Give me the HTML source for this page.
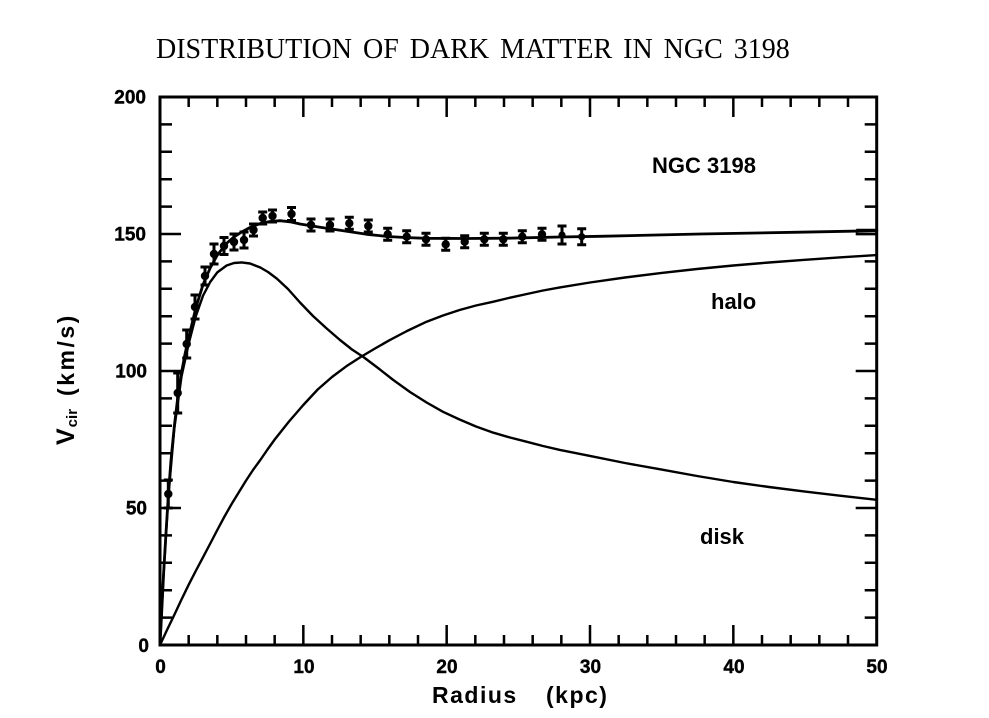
<!DOCTYPE html>
<html>
<head>
<meta charset="utf-8">
<style>
  html,body{margin:0;padding:0;background:#fff;}
  body{width:989px;height:718px;overflow:hidden;}
  svg{display:block;}
  .b{font-family:"Liberation Sans",Arial,sans-serif;font-weight:bold;fill:#000;}
  .t{font-family:"Liberation Serif","Times New Roman",serif;fill:#000;}
</style>
</head>
<body>
<svg width="989" height="718" viewBox="0 0 989 718" xmlns="http://www.w3.org/2000/svg">
  <rect x="0" y="0" width="989" height="718" fill="#fff"/>

  <!-- Title -->
  <text class="t" x="156" y="58" font-size="28" word-spacing="4">DISTRIBUTION OF DARK MATTER IN NGC 3198</text>

  <!-- Frame -->
  <rect x="160" y="97" width="716.7" height="548" fill="none" stroke="#000" stroke-width="3"/>

  <!-- Ticks -->
  <path fill="none" stroke="#000" stroke-width="2.5" d="
    M188.67 645V635 M217.33 645V635 M246 645V635 M274.67 645V635 M303.33 645V625
    M332 645V635 M360.67 645V635 M389.33 645V635 M418 645V635 M446.67 645V625
    M475.33 645V635 M504 645V635 M532.67 645V635 M561.33 645V635 M590 645V625
    M618.67 645V635 M647.33 645V635 M676 645V635 M704.67 645V635 M733.33 645V625
    M762 645V635 M790.67 645V635 M819.33 645V635 M848 645V635
    M188.67 97V107 M217.33 97V107 M246 97V107 M274.67 97V107 M303.33 97V117
    M332 97V107 M360.67 97V107 M389.33 97V107 M418 97V107 M446.67 97V117
    M475.33 97V107 M504 97V107 M532.67 97V107 M561.33 97V107 M590 97V117
    M618.67 97V107 M647.33 97V107 M676 97V107 M704.67 97V107 M733.33 97V117
    M762 97V107 M790.67 97V107 M819.33 97V107 M848 97V107
    M160 617.6H172 M160 590.2H172 M160 562.8H172 M160 535.4H172 M160 508H181
    M160 480.6H172 M160 453.2H172 M160 425.8H172 M160 398.4H172 M160 371H181
    M160 343.6H172 M160 316.2H172 M160 288.8H172 M160 261.4H172 M160 234H181
    M160 206.6H172 M160 179.2H172 M160 151.8H172 M160 124.4H172
    M876.7 617.6H864.7 M876.7 590.2H864.7 M876.7 562.8H864.7 M876.7 535.4H864.7 M876.7 508H855.7
    M876.7 480.6H864.7 M876.7 453.2H864.7 M876.7 425.8H864.7 M876.7 398.4H864.7 M876.7 371H855.7
    M876.7 343.6H864.7 M876.7 316.2H864.7 M876.7 288.8H864.7 M876.7 261.4H864.7 M876.7 234H855.7
    M876.7 206.6H864.7 M876.7 179.2H864.7 M876.7 151.8H864.7 M876.7 124.4H864.7
  "/>

  <!-- X tick labels -->
  <g class="b" font-size="19" text-anchor="middle" stroke="#000" stroke-width="0.4">
    <text x="160.5" y="673">0</text>
    <text x="304" y="673">10</text>
    <text x="447" y="673">20</text>
    <text x="590.5" y="673">30</text>
    <text x="734" y="673">40</text>
    <text x="877" y="673">50</text>
  </g>
  <!-- Y tick labels -->
  <g class="b" font-size="19" text-anchor="end" stroke="#000" stroke-width="0.4">
    <text x="149" y="652">0</text>
    <text x="147" y="514.5">50</text>
    <text x="147" y="377.5">100</text>
    <text x="146" y="240.5">150</text>
    <text x="146" y="103.5">200</text>
  </g>

  <!-- Axis labels -->
  <text class="b" x="432" y="703" font-size="23" letter-spacing="1.5">Radius</text>
  <text class="b" x="546" y="703" font-size="23" letter-spacing="1.5">(kpc)</text>
  <text class="b" transform="translate(74,445) rotate(-90)" font-size="23"><tspan font-size="25">V</tspan><tspan font-size="15" dy="3" dx="1">cir</tspan><tspan dy="-3" dx="13" letter-spacing="2.5">(km/s)</tspan></text>

  <!-- Annotations -->
  <text class="b" x="652" y="173" font-size="22">NGC 3198</text>
  <text class="b" x="711" y="309" font-size="22">halo</text>
  <text class="b" x="700" y="544" font-size="22">disk</text>

  <!-- Curves -->
  <g fill="none" stroke="#000" stroke-width="2.4" stroke-linejoin="round" stroke-linecap="round">
    <!-- disk -->
    <polyline points="160,645 163.6,573.8 168.3,497 174.3,428.5 181.5,376.5 188.7,343.6 195.8,316.2 203,295.7 210.2,282 217.3,272.4 226.6,265.5 234,263 241.7,262.4 250,263.5 260.3,267.5 268,272 276.7,278.5 288,289 300,302.5 313,316 326.7,328.5 340,340 352,349.5 363.4,357 378,368 393.3,380 410,392 426.6,402.5 443,411.8 459.6,419.5 476,426.5 493.4,432.7 510,437.5 526.9,441.8 543,446 559.9,449.9 590,455.9 625,463 661.7,469.6 697,476 733.3,482 769,487 805,491.6 841,495.8 876.7,499.8"/>
    <!-- halo -->
    <polyline points="160,645 167,630 174.3,614.9 181.5,599.5 188.7,584.7 196,570.5 203,557.3 210,544 217.3,530 224.5,516.5 231.7,503.9 239,492 246,480.6 253,470 260.3,460 267.5,449.5 274.7,439.5 289,421.5 303.3,405 317.7,389.5 332,377 346.3,366.3 360.7,357 375,348.5 389.3,340.3 407,331 426.6,321.7 443,315.5 459.6,310 476,305.5 493.4,301.7 510,297.7 526.9,294 543,290.5 559.9,287.4 590,282.5 625,277.5 661.7,272.9 697,269 733.3,265.5 769,262.5 805,259.8 841,257.3 876.7,255.1"/>
    <!-- total -->
    <polyline stroke-width="2.8" points="160,645 161.8,610 163.6,573.5 166,533 168.3,496 171,460 174.3,426.4 177.7,398 181.5,372.7 185,354 188.7,337.6 195.8,308 203,284.7 210.2,268 217.3,255.1 226.6,243.3 234,237 241.7,232 250,227.5 260.3,223.5 270,221.5 280,220.7 290,221.8 300,224 320,227.3 335,229.5 350,231.7 366.7,234.3 387.7,236.5 407,237.6 426.7,238.3 466.7,238.5 506.7,238.2 560,237 600,236.3 700,234 800,232.2 876.7,230.7"/>
  </g>
  <rect x="857" y="229.5" width="19" height="5" fill="none" stroke="#000" stroke-width="1.5"/>

  <!-- Data error bars -->
  <path fill="none" stroke="#000" stroke-width="3" d="
    M168.3 480V508 M163.8 480H172.8 M163.8 508H172.8
    M177.7 373V413 M173.2 373H182.2 M173.2 413H182.2
    M186.7 330V358 M182.2 330H191.2 M182.2 358H191.2
    M195 295V319 M190.5 295H199.5 M190.5 319H199.5
    M205 267V285 M200.5 267H209.5 M200.5 285H209.5
    M214 244V264 M209.5 244H218.5 M209.5 264H218.5
    M224 237.5V254.5 M219.5 237.5H228.5 M219.5 254.5H228.5
    M234 234V250 M229.5 234H238.5 M229.5 250H238.5
    M244 232V248 M239.5 232H248.5 M239.5 248H248.5
    M253.5 224V236 M249 224H258 M249 236H258
    M262.7 212V224 M258.2 212H267.2 M258.2 224H267.2
    M272.5 210V222 M268 210H277 M268 222H277
    M291.5 207.5V220.5 M287 207.5H296 M287 220.5H296
    M311 219V231 M306.5 219H315.5 M306.5 231H315.5
    M330 219V231 M325.5 219H334.5 M325.5 231H334.5
    M349.3 217.3V229.3 M344.8 217.3H353.8 M344.8 229.3H353.8
    M368.3 220V232 M363.8 220H372.8 M363.8 232H372.8
    M387.7 228.3V240.3 M383.2 228.3H392.2 M383.2 240.3H392.2
    M406.7 230.7V242.7 M402.2 230.7H411.2 M402.2 242.7H411.2
    M426 233.3V245.3 M421.5 233.3H430.5 M421.5 245.3H430.5
    M445.7 238.3V250.3 M441.2 238.3H450.2 M441.2 250.3H450.2
    M464.7 235.7V247.7 M460.2 235.7H469.2 M460.2 247.7H469.2
    M484.3 233.3V245.3 M479.8 233.3H488.8 M479.8 245.3H488.8
    M503.3 233.3V245.3 M498.8 233.3H507.8 M498.8 245.3H507.8
    M522.3 230.7V242.7 M517.8 230.7H526.8 M517.8 242.7H526.8
    M542 228.3V240.3 M537.5 228.3H546.5 M537.5 240.3H546.5
    M562 226V244 M557.5 226H566.5 M557.5 244H566.5
    M581.7 228.7V244.7 M577.2 228.7H586.2 M577.2 244.7H586.2
  "/>
  <!-- Data points -->
  <g fill="#000">
    <circle cx="168.3" cy="494" r="4.2"/>
    <circle cx="177.7" cy="393" r="4.2"/>
    <circle cx="186.7" cy="344" r="4.2"/>
    <circle cx="195" cy="307" r="4.2"/>
    <circle cx="205" cy="276" r="4.2"/>
    <circle cx="214" cy="254" r="4.2"/>
    <circle cx="224" cy="246" r="4.2"/>
    <circle cx="234" cy="242" r="4.2"/>
    <circle cx="244" cy="240" r="4.2"/>
    <circle cx="253.5" cy="230" r="4.2"/>
    <circle cx="262.7" cy="218" r="4.2"/>
    <circle cx="272.5" cy="216" r="4.2"/>
    <circle cx="291.5" cy="214" r="4.2"/>
    <circle cx="311" cy="225" r="4.2"/>
    <circle cx="330" cy="225" r="4.2"/>
    <circle cx="349.3" cy="223.3" r="4.2"/>
    <circle cx="368.3" cy="226" r="4.2"/>
    <circle cx="387.7" cy="234.3" r="4.2"/>
    <circle cx="406.7" cy="236.7" r="4.2"/>
    <circle cx="426" cy="239.3" r="4.2"/>
    <circle cx="445.7" cy="244.3" r="4.2"/>
    <circle cx="464.7" cy="241.7" r="4.2"/>
    <circle cx="484.3" cy="239.3" r="4.2"/>
    <circle cx="503.3" cy="239.3" r="4.2"/>
    <circle cx="522.3" cy="236.7" r="4.2"/>
    <circle cx="542" cy="234.3" r="4.2"/>
    <circle cx="562" cy="235" r="3.6"/>
    <circle cx="581.7" cy="236.7" r="3.6"/>
  </g>
</svg>
</body>
</html>
